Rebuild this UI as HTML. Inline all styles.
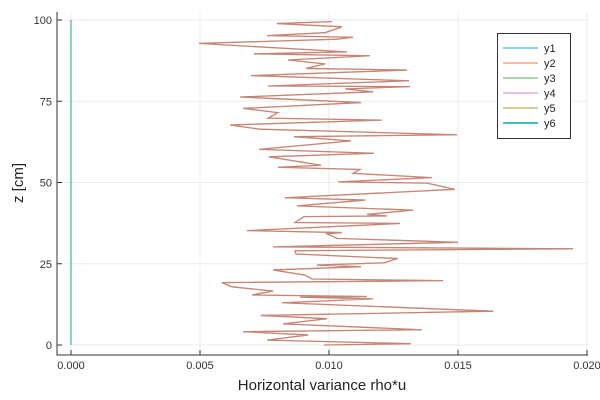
<!DOCTYPE html>
<html><head><meta charset="utf-8"><style>
body{margin:0;background:#fff}
svg{display:block;font-family:"Liberation Sans",sans-serif}
</style></head><body>
<svg id="c" width="600" height="400" xmlns="http://www.w3.org/2000/svg"></svg>
<script>
const xTicks=[0,0.005,0.010,0.015,0.020];
const xTickLabels=["0.000","0.005","0.010","0.015","0.020"];
const yTicks=[0,25,50,75,100];
const yTickLabels=["0","25","50","75","100"];
const zs=[99.5,98.9,97.9,96.1,95.2,94.7,94.1,92.8,90.2,89.6,89.0,87.7,86.5,85.1,84.6,82.9,81.3,79.7,79.5,78.8,77.9,76.3,74.6,72.8,71.5,69.8,69.2,67.7,66.4,64.7,64.1,62.8,60.2,59.0,57.9,55.3,54.7,54.0,52.8,51.5,50.2,49.8,47.9,45.3,44.6,42.8,41.5,40.2,39.7,39.5,37.7,37.4,35.2,34.6,34.2,32.8,31.6,30.2,29.6,29.0,28.0,26.6,25.3,24.6,24.1,23.1,21.5,20.3,19.8,19.2,17.9,16.6,15.4,14.9,14.7,14.2,13.0,10.4,9.1,8.1,6.5,4.7,4.1,3.1,1.5,0.4,0];
const varianceRhoU=[0.01012,0.00798,0.01050,0.00985,0.00760,0.01093,0.01031,0.00496,0.01070,0.00709,0.01159,0.00841,0.00985,0.00911,0.01302,0.00698,0.01310,0.00764,0.01314,0.01062,0.01171,0.00655,0.01124,0.00667,0.00802,0.00764,0.01205,0.00616,0.00733,0.01496,0.00864,0.01085,0.00729,0.01174,0.00767,0.00969,0.00802,0.01120,0.01093,0.01399,0.01035,0.01380,0.01488,0.00829,0.01140,0.00876,0.01326,0.01147,0.01225,0.00903,0.00868,0.01275,0.00682,0.01050,0.00992,0.01031,0.01500,0.00783,0.01946,0.00868,0.00872,0.01267,0.01213,0.00953,0.01124,0.00783,0.00907,0.00934,0.01442,0.00585,0.00624,0.00783,0.00702,0.01147,0.00888,0.01171,0.00818,0.01636,0.00736,0.00992,0.00822,0.01360,0.00667,0.00919,0.00760,0.01318,0.00981];
const zeroSeries=[0,0];
const zeroZ=[0,100];
const seriesNames=["y1","y2","y3","y4","y5","y6"];
const seriesColors=["#009AFA","#E36F47","#3EA44E","#C371D2","#AC8D18","#00A9AD"];

const NS="http://www.w3.org/2000/svg";
const svg=document.getElementById('c');
const L=57,R=588,T=12,B=355;
const sx=v=>71+v/0.005*129;
const sy=z=>345-z*3.25;
function el(t,a,p){const e=document.createElementNS(NS,t);for(const k in a)e.setAttribute(k,a[k]);(p||svg).appendChild(e);return e;}
xTicks.forEach((t,i)=>{
 const g=el('line',{x1:sx(t),x2:sx(t),y1:T,y2:B,stroke:'#ebebeb','stroke-width':1});
 
 
 const tk=el('line',{x1:sx(t),x2:sx(t),y1:B,y2:B-5,stroke:'#333'});
 
 
 const tx=el('text',{x:sx(t),y:369,'font-size':11,'text-anchor':'middle',fill:'#333'});
 tx.textContent=xTickLabels[i];
 
 
});
yTicks.forEach((t,i)=>{
 const g=el('line',{x1:L,x2:R,y1:sy(t),y2:sy(t),stroke:'#ebebeb','stroke-width':1});
 
 
 const tk=el('line',{x1:L,x2:L+5,y1:sy(t),y2:sy(t),stroke:'#333'});
 
 
 const tx=el('text',{x:L-5,y:sy(t)+4,'font-size':11,'text-anchor':'end',fill:'#333'});
 tx.textContent=yTickLabels[i];
 
 
});
const ax=el('path',{d:`M${L} ${T}V${B}H${R}`,fill:'none',stroke:'#333','stroke-width':1});


[3,4,0,2,5].forEach(i=>{
 const p=el('polyline',{points:zeroZ.map((z,j)=>sx(zeroSeries[j])+','+sy(z)).join(' '),fill:'none',stroke:seriesColors[i],'stroke-width':1,'stroke-opacity':i==5?0.7:1});
 
 
});
const pts=zs.map((z,i)=>sx(varianceRhoU[i])+','+sy(z)).join(' ');
const p2=el('polyline',{points:pts,fill:'none',stroke:'#E36F47','stroke-width':1.3});


const p6=el('polyline',{points:pts,fill:'none',stroke:'#a39aa8','stroke-width':0.8,'stroke-opacity':0.7});


const xl=el('text',{x:322,y:390,'font-size':15,'text-anchor':'middle',fill:'#222'});
xl.textContent='Horizontal variance rho*u';


const yl=el('text',{x:23,y:183,'font-size':15,'text-anchor':'middle',fill:'#222',transform:'rotate(-90 23 183)'});
yl.textContent='z [cm]';


const lg=el('g',{});


el('rect',{x:497.5,y:33.5,width:73,height:105,fill:'#fff',stroke:'#333'},lg);
seriesNames.forEach((n,i)=>{
 const y=48+i*15;
 const g=el('g',{},lg);
 
 
 el('line',{x1:503,x2:538,y1:y,y2:y,stroke:seriesColors[i],'stroke-width':1.5,'stroke-opacity':i==5?1:0.6},g);
 const t=el('text',{x:544,y:y+4,'font-size':11,fill:'#222'},g);
 t.textContent=n;
});
</script>
</body></html>
